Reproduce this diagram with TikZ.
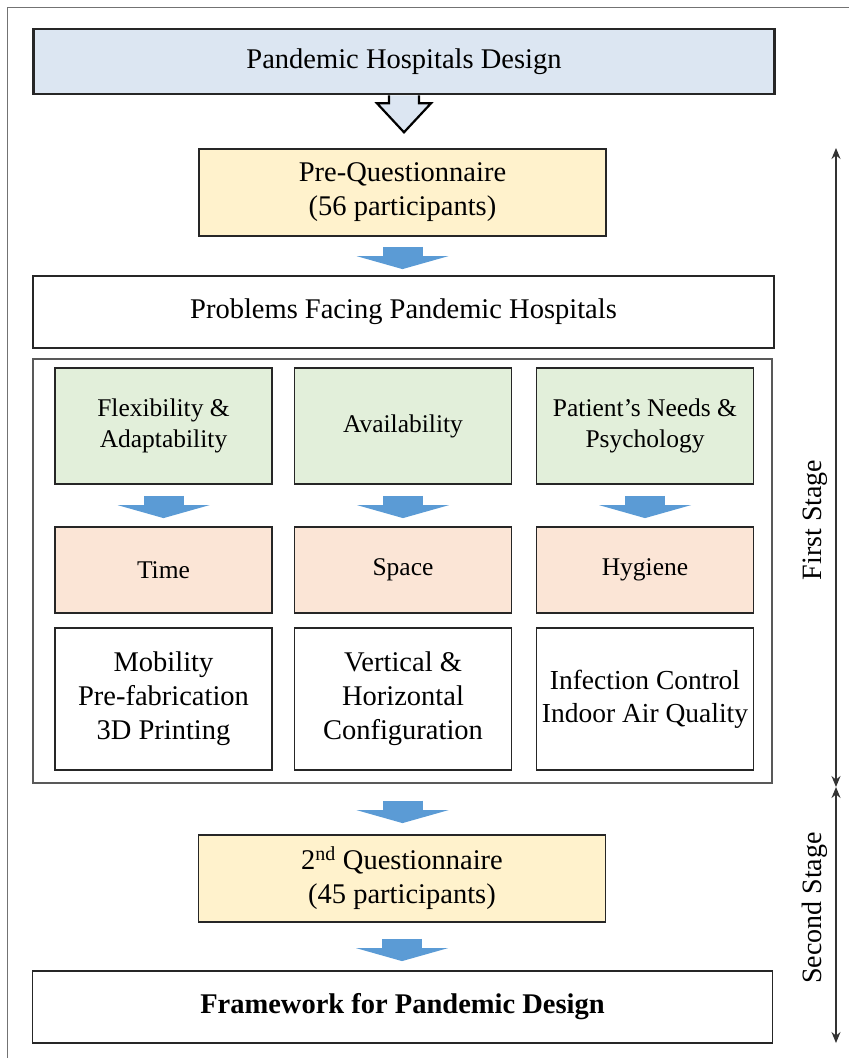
\documentclass[tikz,border=0pt]{standalone}
\usepackage{fontspec}
\setmainfont{Liberation Serif}
\usetikzlibrary{arrows.meta, calc, backgrounds, positioning}
\definecolor{ltop}{HTML}{DCE6F2}
\definecolor{lquest}{HTML}{FFF2CC}
\definecolor{lprob}{HTML}{E2EFDA}
\definecolor{laspect}{HTML}{FBE5D6}
\definecolor{flowblue}{HTML}{5B9BD5}
\tikzset{
  % scatola generica
  box/.style={draw=black!85, line width=1.8pt, align=center, fill=white, inner sep=2pt,
    font=\fontsize{28.5}{34}\selectfont},
  wide box/.style={box, minimum width=741pt, minimum height=72pt},
  quest/.style={box, fill=lquest, minimum width=407pt, minimum height=87pt},
  % celle del pannello centrale
  cell/.style={box, minimum width=217pt},
  problem/.style={cell, fill=lprob, minimum height=116pt, font=\fontsize{25.5}{30.5}\selectfont},
  aspect/.style={cell, fill=laspect, minimum height=86pt, font=\fontsize{25.5}{30.5}\selectfont},
  solution/.style={cell, minimum height=142pt},
  panel/.style={draw=black!65, line width=1.2pt, minimum width=739pt, minimum height=424pt},
  % frecce
  flow/.style={draw=flowblue, line width=40pt,
    -{Triangle[width=92pt, length=13pt, line width=0pt]}},
  hollow/.style={draw=black, line width=2.2pt, fill=ltop, line join=miter},
  stage/.style={<->, >={Stealth[length=11pt, width=9pt]}, line width=1.3pt, draw=black!80},
  stagelbl/.style={rotate=90, font=\fontsize{28}{33}\selectfont},
}

\begin{document}
\begin{tikzpicture}[x=1pt, y=-1pt]
  \useasboundingbox (0,0) rectangle (849,1058);
  \draw[black!55, line width=1pt] (7,1058) -- (7,7) -- (849,7);

  \node[wide box, fill=ltop, line width=2.6pt, minimum height=65pt] (design) at (404,61.5) {Pandemic Hospitals Design};
  \node[quest] (pq) at (402.5,192.5) {Pre-Questionnaire\\(56 participants)};
  \node[wide box] (prob) at (403.5,312) {Problems Facing Pandemic Hospitals};
  \node[panel] (panel) at (402.5,571) {};
  \node[problem] (flex) at (163.5,426) {Flexibility \&\\Adaptability};
  \node[problem] (avail) at (403,426) {Availability};
  \node[problem] (needs) at (645,426) {Patient's Needs \&\\Psychology};
  \node[aspect] (time) at (163.5,570) {Time};
  \node[aspect] (space) at (403,570) {Space};
  \node[aspect] (hyg) at (645,570) {Hygiene};
  \node[solution] (mob) at (163.5,699) {Mobility\\Pre-fabrication\\3D Printing};
  \node[solution] (conf) at (403,699) {Vertical \&\\Horizontal\\Configuration};
  \node[solution, font=\fontsize{27.5}{33}\selectfont] (iaq) at (645,699) {Infection Control\\Indoor Air Quality};
  \node[quest] (q2) at (402,878.5) {2\textsuperscript{nd} Questionnaire\\(45 participants)};
  \node[wide box, minimum width=740pt] (fw) at (402.5,1007) {\textbf{Framework for Pandemic Design}};

  % freccia vuota sotto il titolo
  \coordinate (tip) at ($(design.south)+(0,37)$);
  \begin{scope}[on background layer]
    \filldraw[hollow] ([xshift=-15pt]design.south) -- ++(0,8) -- ++(-12,0) -- (tip)
      -- ++(27,-29) -- ++(-12,0) -- ++(0,-8);
  \end{scope}

  % frecce blu
  \draw[flow, shorten <=10pt, shorten >=6pt] (pq.south) -- (pq.south |- prob.north);
  \foreach \a/\b in {flex/time, avail/space, needs/hyg}
    \draw[flow, shorten <=11pt, shorten >=8pt] (\a.south) -- (\b.north);
  \draw[flow, shorten <=17pt, shorten >=11pt] (panel.south) -- (panel.south |- q2.north);
  \draw[flow, shorten <=16pt, shorten >=9pt] (q2.south) -- (q2.south |- fw.north);

  % fasi
  \coordinate (s1) at (836,148);
  \coordinate (s2) at (836,787);
  \coordinate (s3) at (836,1043);
  \draw[stage] (s1) -- (s2);
  \draw[stage] (s2) -- (s3);
  \node[stagelbl] (first) at (815,520) {First Stage};
  \node[stagelbl] (second) at (815,908) {Second Stage};
\end{tikzpicture}
\end{document}
